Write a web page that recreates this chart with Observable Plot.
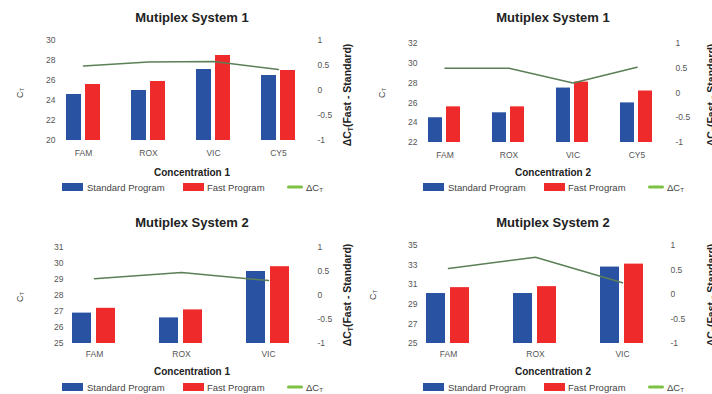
<!DOCTYPE html>
<html><head><meta charset="utf-8">
<script src="https://cdn.jsdelivr.net/npm/d3@7"></script>
<script src="https://cdn.jsdelivr.net/npm/@observablehq/plot@0.6"></script>
<style>
html,body{margin:0;padding:0;background:#fff;}
#root{position:relative;width:712px;height:394px;overflow:hidden;font-family:"Liberation Sans",Arial,sans-serif;background:#fff;}
.abs{position:absolute;white-space:nowrap;}
.title{font-weight:bold;font-size:13px;color:#222;transform:translate(-50%,-50%);}
.xlab{font-weight:bold;font-size:10px;color:#222;transform:translate(-50%,-50%);}
.ylab{font-size:9px;color:#444;transform:translate(-50%,-50%) rotate(-90deg);}
.rlab{font-weight:bold;font-size:10.5px;color:#222;transform:translate(-50%,-50%) rotate(-90deg);}
sub{font-size:0.65em;vertical-align:-0.25em;line-height:0;}
.leg{font-size:9.5px;color:#444;transform:translateY(-50%);}
.sw{position:absolute;width:21px;height:8px;transform:translateY(-50%);}
.gl{position:absolute;width:16px;height:3px;border-radius:2px;transform:translateY(-50%);}
.plotbox{position:absolute;}
.plotbox svg{display:block;}
</style>
</head><body>
<div id="root"></div>
<script>
// ---------------- data ----------------
const categories4 = ["FAM", "ROX", "VIC", "CY5"];
const categories3 = ["FAM", "ROX", "VIC"];
const programs = ["Standard Program", "Fast Program"];
const deltaTicks = [-1, -0.5, 0, 0.5, 1];

// Multiplex System 1, Concentration 1
const s1c1Standard = [24.6, 25.0, 27.1, 26.5];
const s1c1Fast     = [25.6, 25.9, 28.5, 27.0];
const s1c1Delta    = [0.49, 0.57, 0.58, 0.42];
const s1c1Ticks    = [20, 22, 24, 26, 28, 30];

// Multiplex System 1, Concentration 2
const s1c2Standard = [24.5, 25.0, 27.5, 26.0];
const s1c2Fast     = [25.6, 25.6, 28.1, 27.2];
const s1c2Delta    = [0.5, 0.5, 0.2, 0.52];
const s1c2Ticks    = [22, 24, 26, 28, 30, 32];

// Multiplex System 2, Concentration 1
const s2c1Standard = [26.9, 26.6, 29.5];
const s2c1Fast     = [27.2, 27.1, 29.8];
const s2c1Delta    = [0.35, 0.48, 0.31];
const s2c1Ticks    = [25, 26, 27, 28, 29, 30, 31];

// Multiplex System 2, Concentration 2
const s2c2Standard = [30.1, 30.1, 32.8];
const s2c2Fast     = [30.7, 30.8, 33.1];
const s2c2Delta    = [0.53, 0.76, 0.24];
const s2c2Ticks    = [25, 27, 29, 31, 33, 35];

// ---------------- styling ----------------
const BLUE = "#2a52a2", RED = "#ee2a2a", GREEN = "#7cc142", LINE = "#5b7f57";
const FONT = '"Liberation Sans", Arial, sans-serif';

const panels = [
  {title: "Mutiplex System 1", xlabel: "Concentration 1", cats: categories4, std: s1c1Standard, fast: s1c1Fast, delta: s1c1Delta, ticks: s1c1Ticks,
   left: 0, top: 28, width: 356, height: 152, ml: 48, mr: 44, mt: 12, mb: 40, fxIn: 0.3, fxOut: 0.16, xIn: 0.21, xOut: 0.31, tickPad: 9,
   titleX: 192, titleY: 17, xlabX: 192, xlabY: 172, legY: 187, legX: 62, ylabX: 20, ylabY: 93, rlabX: 347, rlabY: 95},
  {title: "Mutiplex System 1", xlabel: "Concentration 2", cats: categories4, std: s1c2Standard, fast: s1c2Fast, delta: s1c2Delta, ticks: s1c2Ticks,
   left: 355, top: 30, width: 356, height: 152, ml: 55, mr: 41, mt: 13, mb: 40, fxIn: 0.3, fxOut: 0.16, xIn: 0.21, xOut: 0.31, tickPad: 9,
   titleX: 553, titleY: 17, xlabX: 553, xlabY: 172, legY: 187, legX: 423, ylabX: 382, ylabY: 93, rlabX: 711, rlabY: 95},
  {title: "Mutiplex System 2", xlabel: "Concentration 1", cats: categories3, std: s2c1Standard, fast: s2c1Fast, delta: s2c1Delta, ticks: s2c1Ticks,
   left: 0, top: 232, width: 356, height: 151, ml: 50, mr: 44, mt: 15, mb: 40, fxIn: 0.4, fxOut: 0.19, xIn: 0.2, xOut: 0.154, tickPad: 7,
   titleX: 192, titleY: 222, xlabX: 192, xlabY: 371, legY: 387, legX: 62, ylabX: 20, ylabY: 297, rlabX: 347, rlabY: 295},
  {title: "Mutiplex System 2", xlabel: "Concentration 2", cats: categories3, std: s2c2Standard, fast: s2c2Fast, delta: s2c2Delta, ticks: s2c2Ticks,
   left: 355, top: 230, width: 356, height: 153, ml: 50, mr: 46, mt: 15, mb: 40, fxIn: 0.4, fxOut: 0.19, xIn: 0.2, xOut: 0.154, tickPad: 7,
   titleX: 553, titleY: 222, xlabX: 553, xlabY: 371, legY: 387, legX: 423, ylabX: 373, ylabY: 295, rlabX: 711, rlabY: 295}
];

const root = document.getElementById("root");
function addHTML(cls, x, y, html) {
  const d = document.createElement("div");
  d.className = "abs " + cls;
  d.style.left = x + "px"; d.style.top = y + "px";
  d.innerHTML = html;
  root.appendChild(d);
  return d;
}

for (const p of panels) {
  const rows = [];
  p.cats.forEach((c, i) => {
    rows.push({cat: c, prog: programs[0], value: p.std[i]});
    rows.push({cat: c, prog: programs[1], value: p.fast[i]});
  });
  const deltaRows = p.cats.map((c, i) => ({cat: c, delta: p.delta[i]}));
  const ymin = p.ticks[0], ymax = p.ticks[p.ticks.length - 1];

  const common = {
    width: p.width, height: p.height,
    marginTop: p.mt, marginBottom: p.mb, marginLeft: p.ml, marginRight: p.mr,
    style: {background: "transparent", fontFamily: FONT, fontSize: "8.5px", color: "#555", overflow: "visible"}
  };

  const bars = Plot.plot({
    ...common,
    facet: {data: rows, x: "cat"},
    fx: {domain: p.cats, paddingInner: p.fxIn, paddingOuter: p.fxOut, axis: "bottom", tickSize: 0, tickPadding: p.tickPad, label: null},
    x: {domain: programs, paddingInner: p.xIn, paddingOuter: p.xOut, axis: null},
    y: {domain: [ymin, ymax], ticks: p.ticks, tickSize: 0, tickPadding: 5, label: null, tickFormat: d => String(d)},
    color: {domain: programs, range: [BLUE, RED]},
    marks: [
      Plot.barY(rows, {x: "prog", y1: ymin, y2: "value", fill: "prog"})
    ]
  });

  const line = Plot.plot({
    ...common,
    x: {type: "band", domain: p.cats, paddingInner: p.fxIn, paddingOuter: p.fxOut, axis: null},
    y: {domain: [-1, 1], ticks: deltaTicks, axis: "right", tickSize: 0, tickPadding: 5, label: null, tickFormat: d => String(d)},
    marks: [
      Plot.line(deltaRows, {x: "cat", y: "delta", stroke: LINE, strokeWidth: 1.5})
    ]
  });

  for (const svg of [bars, line]) {
    const box = document.createElement("div");
    box.className = "plotbox";
    box.style.left = p.left + "px"; box.style.top = p.top + "px";
    box.style.width = p.width + "px"; box.style.height = p.height + "px";
    box.appendChild(svg);
    root.appendChild(box);
  }

  addHTML("title", p.titleX, p.titleY, p.title);
  addHTML("xlab", p.xlabX, p.xlabY, p.xlabel);
  addHTML("ylab", p.ylabX, p.ylabY, "C<sub>T</sub>");
  addHTML("rlab", p.rlabX, p.rlabY, "ΔC<sub>T</sub>(Fast - Standard)");

  // legend
  const lx = p.legX, ly = p.legY;
  const sw1 = document.createElement("div"); sw1.className = "sw"; sw1.style.background = BLUE; sw1.style.left = lx + "px"; sw1.style.top = ly + "px"; root.appendChild(sw1);
  addHTML("leg", lx + 25, ly, programs[0]);
  const sw2 = document.createElement("div"); sw2.className = "sw"; sw2.style.background = RED; sw2.style.left = (lx + 121) + "px"; sw2.style.top = ly + "px"; root.appendChild(sw2);
  addHTML("leg", lx + 145, ly, programs[1]);
  const gl = document.createElement("div"); gl.className = "gl"; gl.style.background = GREEN; gl.style.left = (lx + 225) + "px"; gl.style.top = ly + "px"; root.appendChild(gl);
  addHTML("leg", lx + 244, ly, "ΔC<sub>T</sub>");
}
</script>
</body></html>
